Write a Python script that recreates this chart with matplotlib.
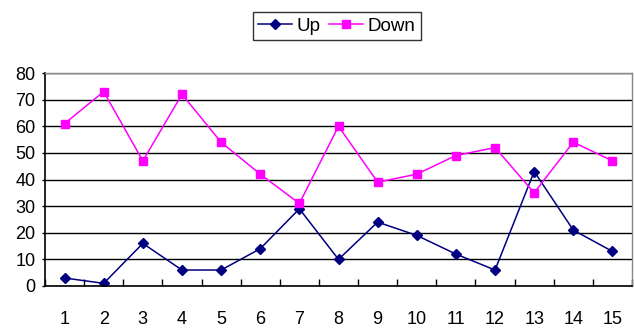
import numpy as np
import matplotlib.pyplot as plt

categories = list(range(1, 16))
up = [3, 1, 16, 6, 6, 14, 29, 10, 24, 19, 12, 6, 43, 21, 13]
down = [61, 73, 47, 72, 54, 42, 31, 60, 39, 42, 49, 52, 35, 54, 47]
yticks = [0, 10, 20, 30, 40, 50, 60, 70, 80]

plt.rcParams['font.family'] = ['Liberation Sans', 'DejaVu Sans']

fig = plt.figure(figsize=(6.34, 3.29), dpi=100)
ax = fig.add_axes([45 / 634, 1 - 286 / 329, 587 / 634, 213 / 329])

ax.plot(categories, up, color='#000080', marker='D', markersize=5.5, lw=1.1, label='Up')
ax.plot(categories, down, color='#FF00FF', marker='s', markersize=6, lw=1.1, label='Down')

ax.set_xlim(0.5, 15.5)
ax.set_ylim(0, 80)
ax.set_yticks(yticks)
ax.set_xticks(categories)
ax.set_xticks(np.arange(0.5, 16, 1), minor=True)
ax.tick_params(axis='x', which='major', length=0, pad=18, labelsize=13)
ax.tick_params(axis='x', which='minor', direction='in', length=5, width=1, color='black')
ax.tick_params(axis='y', direction='out', length=2, width=1, labelsize=13, pad=5)

ax.grid(axis='y', color='black', lw=1)
ax.set_axisbelow(True)
for s in ['left', 'bottom']:
    ax.spines[s].set_color('black')
    ax.spines[s].set_linewidth(1.2)
for s in ['top', 'right']:
    ax.spines[s].set_color('#888888')
    ax.spines[s].set_linewidth(1)

leg = fig.legend(loc='upper center', bbox_to_anchor=(337 / 634, 1 - 12 / 329), ncol=2,
                 frameon=True, fancybox=False, edgecolor='black', fontsize=13.5,
                 handlelength=1.8, handletextpad=0.25, columnspacing=0.45,
                 borderpad=0.3, borderaxespad=0)
leg.get_frame().set_linewidth(1)

fig.savefig('out.png', dpi=100)
